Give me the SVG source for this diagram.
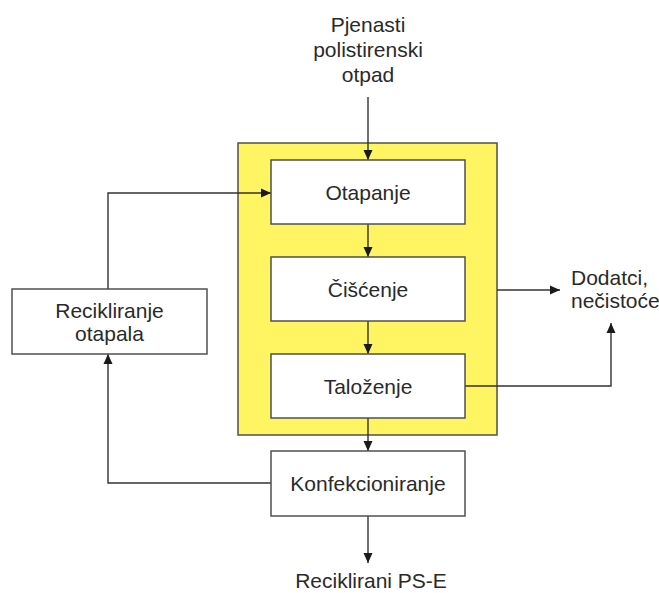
<svg xmlns="http://www.w3.org/2000/svg" width="659" height="593" viewBox="0 0 659 593">
<style>
  .box { fill: #ffffff; stroke: #505050; stroke-width: 1.5; }
  .zone { fill: #fff462; stroke: #505050; stroke-width: 1.5; }
  .lbl { font-family: "Liberation Sans", Arial, sans-serif; font-size: 21px; fill: #2a2a2a; text-anchor: middle; }
  .lft { text-anchor: start; }
  .conn { fill: none; stroke: #333333; stroke-width: 1.4; }
</style>
<defs>
  <marker id="ah" viewBox="0 0 10 10" refX="10" refY="5" markerWidth="10" markerHeight="10" markerUnits="userSpaceOnUse" orient="auto">
    <path d="M0,0.5 L10,5 L0,9.5 z" fill="#1a1a1a"/>
  </marker>
</defs>
<rect width="659" height="593" fill="#ffffff"/>
<g id="zone">
  <rect class="zone" x="238" y="143" width="259" height="292"/>
</g>
<g id="connectors">
  <line class="conn" x1="368" y1="97" x2="368" y2="160" marker-end="url(#ah)"/>
  <line class="conn" x1="368" y1="224" x2="368" y2="257" marker-end="url(#ah)"/>
  <line class="conn" x1="368" y1="321" x2="368" y2="354" marker-end="url(#ah)"/>
  <line class="conn" x1="368" y1="418" x2="368" y2="451" marker-end="url(#ah)"/>
  <line class="conn" x1="368" y1="516" x2="368" y2="563" marker-end="url(#ah)"/>
  <line class="conn" x1="497" y1="290" x2="560" y2="290" marker-end="url(#ah)"/>
  <polyline class="conn" points="465,386 611,386 611,323" marker-end="url(#ah)"/>
  <polyline class="conn" points="271,483 108,483 108,354" marker-end="url(#ah)"/>
  <polyline class="conn" points="108,289 108,193 271,193" marker-end="url(#ah)"/>
</g>
<g id="otapanje">
  <rect class="box" x="271" y="160" width="194" height="64"/>
  <text class="lbl" x="368" y="199.5">Otapanje</text>
</g>
<g id="ciscenje">
  <rect class="box" x="271" y="257" width="194" height="64"/>
  <text class="lbl" x="368" y="296.5">Čišćenje</text>
</g>
<g id="talozenje">
  <rect class="box" x="271" y="354" width="194" height="64"/>
  <text class="lbl" x="368" y="393.5">Taloženje</text>
</g>
<g id="konfekcioniranje">
  <rect class="box" x="271" y="451" width="194" height="65"/>
  <text class="lbl" x="368" y="491">Konfekcioniranje</text>
</g>
<g id="recikliranje">
  <rect class="box" x="12" y="289" width="195" height="65"/>
  <text class="lbl" x="109.5" y="318">Recikliranje</text>
  <text class="lbl" x="109.5" y="341">otapala</text>
</g>
<g id="input">
  <text class="lbl" x="368" y="32">Pjenasti</text>
  <text class="lbl" x="368" y="57">polistirenski</text>
  <text class="lbl" x="368" y="82">otpad</text>
</g>
<g id="dodatci">
  <text class="lbl lft" x="571" y="285">Dodatci,</text>
  <text class="lbl lft" x="571" y="308">nečistoće</text>
</g>
<g id="output">
  <text class="lbl" x="371" y="588">Reciklirani PS-E</text>
</g>
</svg>
